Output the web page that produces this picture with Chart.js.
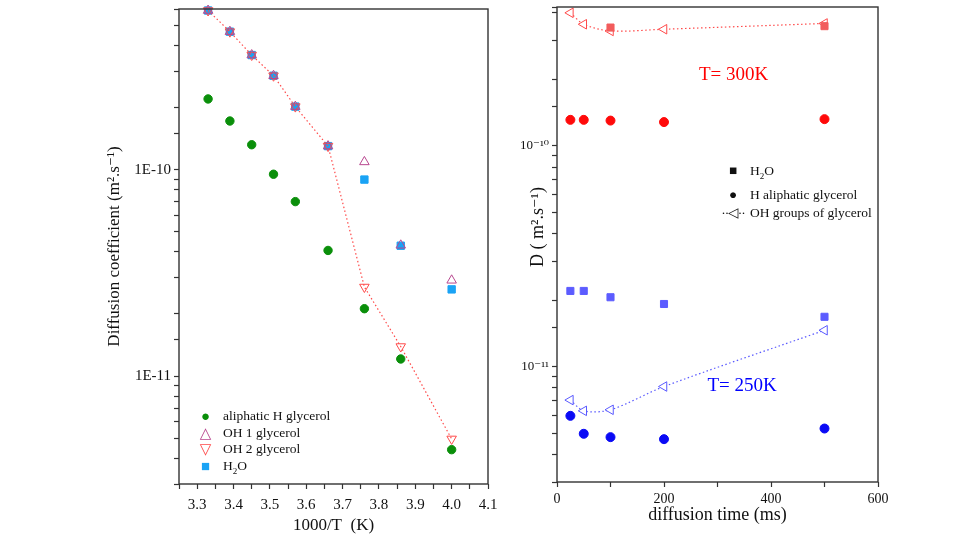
<!DOCTYPE html>
<html>
<head>
<meta charset="utf-8">
<script src="https://cdn.jsdelivr.net/npm/chart.js@4.4.1/dist/chart.umd.min.js"></script>
<style>
  body { margin: 0; background: #fff; }
  #wrap { position: relative; width: 955px; height: 537px; overflow: hidden; font-family: "Liberation Serif", "DejaVu Serif", serif; }
  #left { position: absolute; left: 0; top: 0; }
  #right { position: absolute; left: 495px; top: 0; }
  .lg { position: absolute; font-size: 13.5px; color: #111; white-space: nowrap; }
  .lg .m { display: inline-block; text-align: center; }
</style>
</head>
<body>
<div id="wrap">
  <canvas id="left" width="505" height="537"></canvas>
  <canvas id="right" width="460" height="537"></canvas>
  <div class="lg" id="legLeft" style="left:194px; top:408px;"></div>
  <div class="lg" id="legRight" style="left:716px; top:161px;"></div>
</div>
<script>
// left panel: diffusion coefficient vs 1000/T
const invT = [3.33, 3.39, 3.45, 3.51, 3.57, 3.66, 3.76, 3.86, 4.0];
const aliphaticH = [2.20e-10, 1.72e-10, 1.32e-10, 9.5e-11, 7.0e-11, 4.06e-11, 2.12e-11, 1.21e-11, 4.4e-12];
const oh1 = [5.9e-10, 4.66e-10, 3.59e-10, 2.85e-10, 2.02e-10, 1.30e-10, 1.09e-10, 4.3e-11, 2.91e-11];
const oh2 = [5.9e-10, 4.66e-10, 3.59e-10, 2.85e-10, 2.02e-10, 1.30e-10, 2.70e-11, 1.39e-11, 4.96e-12];
const h2oLeft = [5.9e-10, 4.66e-10, 3.59e-10, 2.85e-10, 2.02e-10, 1.30e-10, 8.95e-11, 4.28e-11, 2.63e-11];

// right panel: D vs diffusion time
const diffTime = [25, 50, 100, 200, 500];
const h2o300 = [null, null, 3.43e-10, null, 3.48e-10];
const aliph300 = [1.31e-10, 1.31e-10, 1.30e-10, 1.28e-10, 1.32e-10];
const oh300 = [4.0e-10, 3.55e-10, 3.31e-10, 3.37e-10, 3.58e-10];
const h2o250 = [2.2e-11, 2.2e-11, 2.06e-11, 1.92e-11, 1.68e-11];
const aliph250 = [5.98e-12, 4.96e-12, 4.79e-12, 4.69e-12, 5.24e-12];
const oh250 = [7.05e-12, 6.3e-12, 6.37e-12, 8.12e-12, 1.46e-11];

const serif = '"Liberation Serif", "DejaVu Serif", serif';
const axisColor = '#333';

function pts(xs, ys) {
  return xs.map((x, i) => ({ x: x, y: ys[i] })).filter(p => p.y !== null);
}

function isDecade(v) {
  const l = Math.log10(v);
  return Math.abs(l - Math.round(l)) < 1e-6;
}

const framePlugin = {
  id: 'frame',
  afterDraw(chart) {
    const a = chart.chartArea, ctx = chart.ctx;
    ctx.save();
    ctx.strokeStyle = axisColor;
    ctx.lineWidth = 1.4;
    ctx.strokeRect(a.left, a.top, a.right - a.left, a.bottom - a.top);
    ctx.restore();
  }
};

function axisGrid() {
  return { drawOnChartArea: false, drawTicks: true, tickLength: 5, tickColor: axisColor, tickWidth: 1.2 };
}

function noEdgePad(s) {
  s.paddingLeft = 0; s.paddingRight = 0; s.paddingTop = 0; s.paddingBottom = 0;
}

// ---------- left chart ----------
new Chart(document.getElementById('left'), {
  type: 'scatter',
  data: {
    datasets: [
      {
        label: 'aliphatic H glycerol',
        data: pts(invT, aliphaticH),
        pointStyle: 'circle', pointRadius: 4.2,
        backgroundColor: '#0a8f0a', borderColor: '#0a8f0a', clip: false
      },
      {
        label: 'OH 1 glycerol',
        data: pts(invT, oh1),
        pointStyle: 'triangle', pointRadius: 5.5, borderWidth: 1,
        backgroundColor: 'rgba(255,255,255,0)', borderColor: '#b8478f', clip: false
      },
      {
        label: 'OH 2 glycerol',
        data: pts(invT, oh2),
        showLine: true, borderDash: [1.5, 2.5], borderWidth: 1.2,
        pointStyle: 'triangle', pointRotation: 180, pointRadius: 5.5, pointBorderWidth: 1,
        backgroundColor: 'rgba(255,255,255,0)', borderColor: '#ff4a4a', clip: false
      },
      {
        label: 'H2O',
        data: pts(invT, h2oLeft),
        pointStyle: 'rect', pointRadius: 5.2,
        backgroundColor: '#1aa3f5', borderColor: '#1aa3f5', clip: false
      }
    ]
  },
  options: {
    responsive: false,
    animation: false,
    layout: { padding: { top: 9, right: 17, left: 0, bottom: 0 } },
    plugins: { legend: { display: false }, tooltip: { enabled: false } },
    scales: {
      x: {
        type: 'linear', min: 3.25, max: 4.1,
        afterFit(s) { s.height = 53; noEdgePad(s); },
        grid: axisGrid(),
        border: { display: false },
        ticks: {
          stepSize: 0.05, autoSkip: false, maxRotation: 0, padding: 7,
          color: '#111', font: { family: serif, size: 15 },
          callback(v) { const n = Math.round(v * 100); return n % 10 === 0 ? (n / 100).toFixed(1) : ''; }
        },
        title: { display: true, text: '1000/T  (K)', color: '#111', font: { family: serif, size: 17 }, padding: { top: 0, bottom: 1 } }
      },
      y: {
        type: 'logarithmic', min: 3e-12, max: 6e-10,
        afterFit(s) { s.width = 179; noEdgePad(s); },
        grid: axisGrid(),
        border: { display: false },
        ticks: {
          autoSkip: false, padding: 3,
          color: '#111', font: { family: serif, size: 15 },
          callback(v) { return isDecade(v) ? '1E' + Math.round(Math.log10(v)) : ''; }
        },
        title: { display: true, text: 'Diffusion coefficient (m\u00B2.s\u207B\u00B9)', color: '#111', font: { family: serif, size: 17 }, padding: { top: 104, bottom: 0 } }
      }
    }
  },
  plugins: [framePlugin]
});

// ---------- right chart ----------
const labelPlugin = {
  id: 'tempLabels',
  afterDatasetsDraw(chart) {
    const ctx = chart.ctx, xs = chart.scales.x, ys = chart.scales.y;
    ctx.save();
    ctx.font = '19px ' + serif;
    ctx.textAlign = 'center';
    ctx.textBaseline = 'middle';
    ctx.fillStyle = '#ff0000';
    ctx.fillText('T= 300K', xs.getPixelForValue(330), ys.getPixelForValue(2.09e-10));
    ctx.fillStyle = '#0000ff';
    ctx.fillText('T= 250K', xs.getPixelForValue(346), ys.getPixelForValue(8.2e-12));
    // y axis title, sits a little above the axis middle as in the original
    ctx.fillStyle = '#111';
    ctx.font = '18px ' + serif;
    ctx.translate(43, 227);
    ctx.rotate(-Math.PI / 2);
    ctx.fillText('D ( m\u00B2.s\u207B\u00B9)', 0, 0);
    ctx.restore();
  }
};

new Chart(document.getElementById('right'), {
  type: 'scatter',
  data: {
    datasets: [
      {
        label: 'H2O 300K', data: pts(diffTime, h2o300),
        pointStyle: 'rect', pointRadius: 5, backgroundColor: '#f25c5c', borderColor: '#f25c5c', clip: false
      },
      {
        label: 'H aliphatic glycerol 300K', data: pts(diffTime, aliph300),
        pointStyle: 'circle', pointRadius: 4.5, backgroundColor: '#ff0a0a', borderColor: '#ff0a0a', clip: false
      },
      {
        label: 'OH groups of glycerol 300K', data: pts(diffTime, oh300),
        showLine: true, borderDash: [1.5, 2.5], borderWidth: 1.2, tension: 0.3,
        pointStyle: 'triangle', pointRotation: 270, pointRadius: 5.5, pointBorderWidth: 1,
        backgroundColor: '#ffffff', borderColor: '#ff4a4a', clip: false
      },
      {
        label: 'H2O 250K', data: pts(diffTime, h2o250),
        pointStyle: 'rect', pointRadius: 5, backgroundColor: '#5c5cff', borderColor: '#5c5cff', clip: false
      },
      {
        label: 'H aliphatic glycerol 250K', data: pts(diffTime, aliph250),
        pointStyle: 'circle', pointRadius: 4.5, backgroundColor: '#0a0af5', borderColor: '#0a0af5', clip: false
      },
      {
        label: 'OH groups of glycerol 250K', data: pts(diffTime, oh250),
        showLine: true, borderDash: [1.5, 2.5], borderWidth: 1.2, tension: 0.3,
        pointStyle: 'triangle', pointRotation: 270, pointRadius: 5.5, pointBorderWidth: 1,
        backgroundColor: '#ffffff', borderColor: '#5a5aff', clip: false
      }
    ]
  },
  options: {
    responsive: false,
    animation: false,
    layout: { padding: { top: 7, right: 77, left: 0, bottom: 0 } },
    plugins: { legend: { display: false }, tooltip: { enabled: false } },
    scales: {
      x: {
        type: 'linear', min: 0, max: 600,
        afterFit(s) { s.height = 55; noEdgePad(s); },
        grid: axisGrid(),
        border: { display: false },
        ticks: {
          stepSize: 100, autoSkip: false, maxRotation: 0, padding: 4,
          color: '#111', font: { family: serif, size: 14 },
          callback(v) { return v % 200 === 0 ? String(v) : ''; }
        },
        title: { display: true, text: 'diffusion time (ms)', color: '#111', font: { family: serif, size: 18 }, padding: { top: 0, bottom: 11 } }
      },
      y: {
        type: 'logarithmic', min: 3e-12, max: 4.25e-10,
        afterFit(s) { s.width = 62; noEdgePad(s); },
        grid: axisGrid(),
        border: { display: false },
        ticks: {
          autoSkip: false, padding: 3,
          color: '#111', font: { family: serif, size: 13 },
          callback(v) {
            if (!isDecade(v)) return '';
            const sup = { '-': '\u207B', '0': '\u2070', '1': '\u00B9', '2': '\u00B2', '3': '\u00B3' };
            return '10' + String(Math.round(Math.log10(v))).split('').map(c => sup[c] || c).join('');
          }
        }
      }
    }
  },
  plugins: [framePlugin, labelPlugin]
});

// legends as plain HTML
const mk = 'display:inline-block;width:23px;margin-right:6px;text-align:center;font-size:15px;line-height:16.7px;vertical-align:top;';
document.getElementById('legLeft').innerHTML =
  '<div style="line-height:16.7px"><span style="' + mk + 'color:#0a8f0a">\u25CF</span>aliphatic H glycerol</div>' +
  '<div style="line-height:16.7px"><span style="' + mk + 'color:#b8478f">\u25B3</span>OH 1 glycerol</div>' +
  '<div style="line-height:16.7px"><span style="' + mk + 'color:#ff4a4a">\u25BD</span>OH 2 glycerol</div>' +
  '<div style="line-height:16.7px"><span style="' + mk + 'color:#1aa3f5">\u25A0</span>H<sub style="font-size:9px">2</sub>O</div>';
document.getElementById('legRight').innerHTML =
  '<div style="line-height:19px"><span class="m" style="width:34px">\u25A0</span>H<sub style="font-size:9px">2</sub>O</div>' +
  '<div style="line-height:18px"><span class="m" style="width:34px">\u25CF</span>H aliphatic glycerol</div>' +
  '<div style="line-height:18px"><span class="m" style="width:34px;letter-spacing:-1px">\u00B7\u00B7\u25C1\u00B7\u00B7</span>OH groups of glycerol</div>';
</script>
</body>
</html>
